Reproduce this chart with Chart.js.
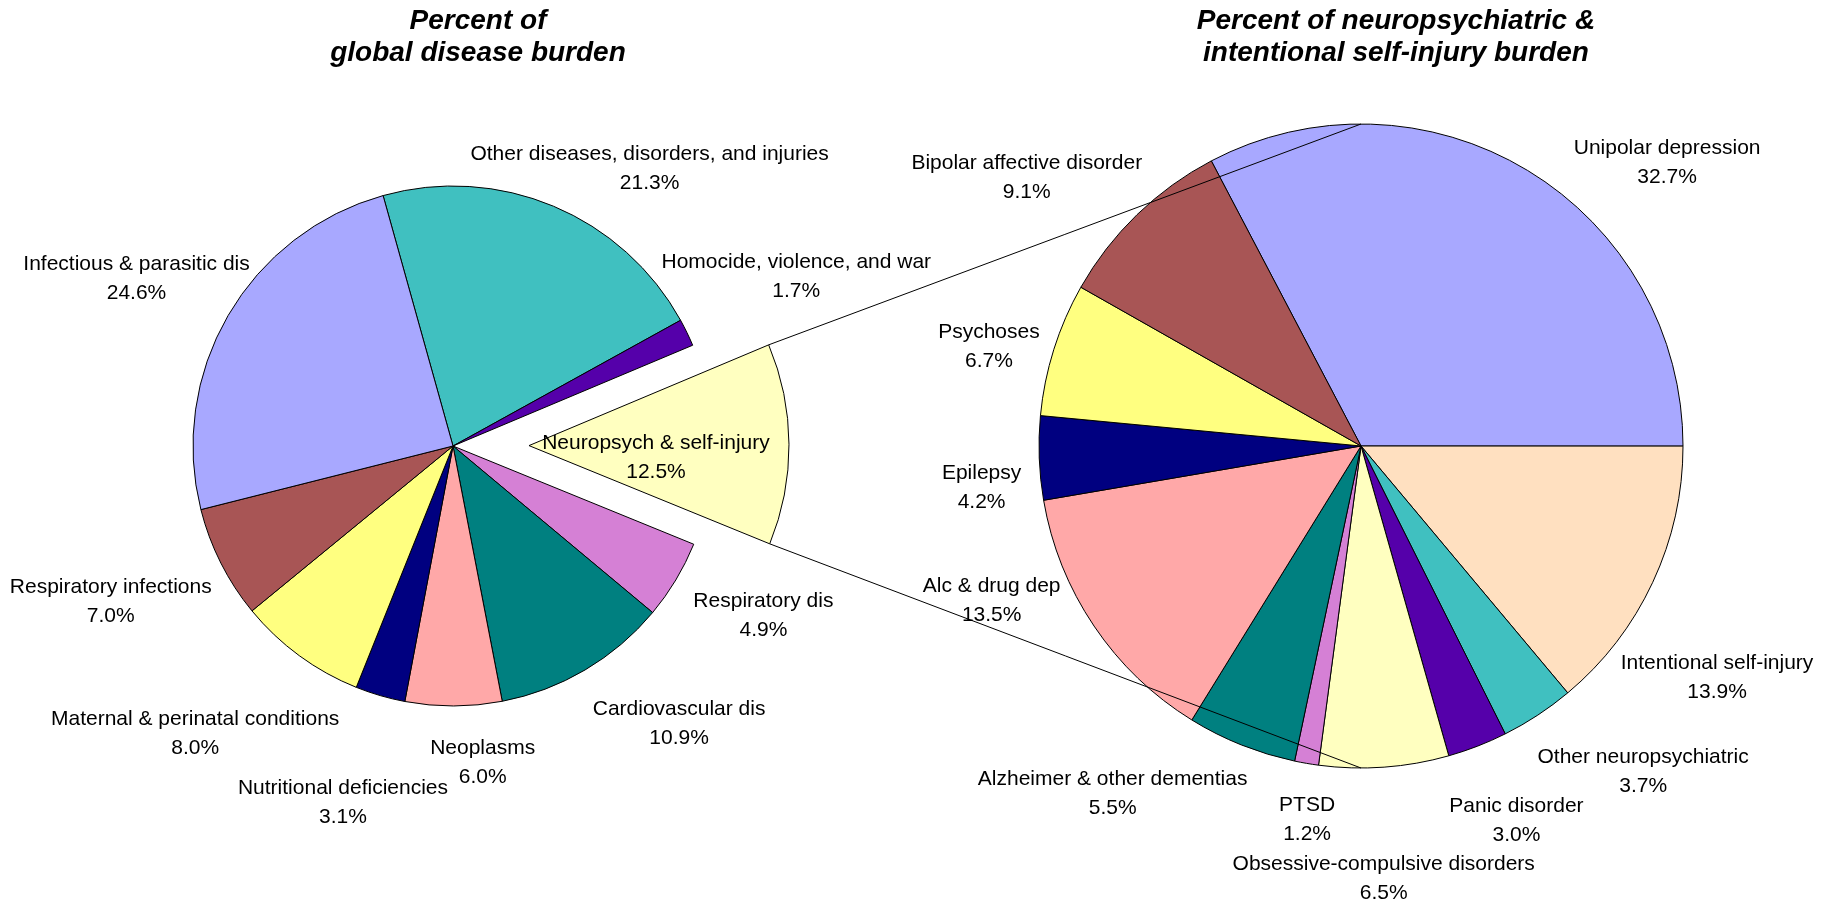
<!DOCTYPE html>
<html>
<head>
<meta charset="utf-8">
<script src="https://cdn.jsdelivr.net/npm/chart.js@4/dist/chart.umd.min.js"></script>
<style>
  body { margin: 0; background: #fff; }
  #wrap { position: relative; width: 1834px; height: 904px; overflow: hidden; }
  #wrap canvas { position: absolute; left: 0; top: 0; }
  .title {
    position: absolute; top: 4px; width: 600px; text-align: center;
    font: italic bold 28px/32px "Liberation Sans", Arial, sans-serif; color: #000;
  }
</style>
</head>
<body>
<div id="wrap">
  <canvas id="globalPie" width="1834" height="904"></canvas>
  <canvas id="neuroPie" width="1834" height="904"></canvas>
  <div class="title" style="left:178px">Percent of<br>global disease burden</div>
  <div class="title" style="left:1096px">Percent of neuropsychiatric &amp;<br>intentional self-injury burden</div>
</div>
<script>
// left pie: share of global disease burden
const globalLabels = [
  'Other diseases, disorders, and injuries', 'Homocide, violence, and war',
  'Neuropsych & self-injury', 'Respiratory dis', 'Cardiovascular dis', 'Neoplasms',
  'Nutritional deficiencies', 'Maternal & perinatal conditions',
  'Respiratory infections', 'Infectious & parasitic dis'
];
const globalValues = [21.3, 1.7, 12.5, 4.9, 10.9, 6.0, 3.1, 8.0, 7.0, 24.6];
const globalColors = ['#40C0C0', '#5500AA', '#FFFFC0', '#D580D5', '#008080',
  '#FFA8A8', '#000080', '#FFFF80', '#A85555', '#A8A8FF'];

// right pie: breakdown of the neuropsych slice
const neuroLabels = [
  'Unipolar depression', 'Intentional self-injury', 'Other neuropsychiatric',
  'Panic disorder', 'Obsessive-compulsive disorders', 'PTSD',
  'Alzheimer & other dementias', 'Alc & drug dep', 'Epilepsy', 'Psychoses',
  'Bipolar affective disorder'
];
const neuroValues = [32.7, 13.9, 3.7, 3.0, 6.5, 1.2, 5.5, 13.5, 4.2, 6.7, 9.1];
const neuroColors = ['#A8A8FF', '#FFE0C0', '#40C0C0', '#5500AA', '#FFFFC0',
  '#D580D5', '#008080', '#FFA8A8', '#000080', '#FFFF80', '#A85555'];

const FONT = '21px "Liberation Sans", Arial, sans-serif';
const LINE_H = 29;

// pulls one slice out along its middle angle
const explode = {
  id: 'explode',
  afterDatasetsUpdate(chart, args, opts) {
    const arc = chart.getDatasetMeta(0).data[opts.index];
    if (!arc) return;
    const mid = (arc.startAngle + arc.endAngle) / 2;
    arc.x += Math.cos(mid) * opts.distance;
    arc.y += Math.sin(mid) * opts.distance;
  }
};

// "name / xx.x%" labels outside each slice (inside for the exploded one)
const pieLabels = {
  id: 'pieLabels',
  afterDraw(chart, args, opts) {
    const ctx = chart.ctx;
    const arcs = chart.getDatasetMeta(0).data;
    const values = chart.data.datasets[0].data;
    ctx.save();
    ctx.font = FONT;
    ctx.fillStyle = '#000';
    ctx.textAlign = 'center';
    ctx.textBaseline = 'middle';
    arcs.forEach((arc, i) => {
      const lines = [chart.data.labels[i], values[i].toFixed(1) + '%'];
      const mid = (arc.startAngle + arc.endAngle) / 2;
      const cos = Math.cos(mid), sin = Math.sin(mid);
      let x, y;
      if (i === opts.inside) {
        x = arc.x + cos * arc.outerRadius * 0.5;
        y = arc.y + sin * arc.outerRadius * 0.5;
      } else {
        const w = Math.max(...lines.map(l => ctx.measureText(l).width));
        const h = LINE_H * lines.length;
        const r = arc.outerRadius + opts.pad;
        x = arc.x + cos * r + cos * w / 2;
        y = arc.y + sin * r + sin * h / 2;
      }
      const n = opts.nudge[i] || [0, 0];
      x += n[0];
      y += n[1];
      lines.forEach((l, k) => {
        ctx.fillText(l, x, y + (k - (lines.length - 1) / 2) * LINE_H);
      });
    });
    ctx.restore();
  }
};

function pieConfig(labels, values, colors, radius, rotation, padding, extra) {
  return {
    type: 'pie',
    data: {
      labels: labels,
      datasets: [{
        data: values,
        backgroundColor: colors,
        borderColor: '#000',
        borderWidth: 1,
        clip: false
      }]
    },
    options: {
      responsive: false,
      animation: false,
      radius: radius,
      rotation: rotation,
      layout: { padding: padding },
      events: [],
      plugins: Object.assign({
        legend: { display: false },
        tooltip: { enabled: false }
      }, extra)
    },
    plugins: [explode, pieLabels]
  };
}

const globalChart = new Chart(document.getElementById('globalPie'), pieConfig(
  globalLabels, globalValues, globalColors, 260, -15.6,
  { left: 0, top: 0, right: 928, bottom: 12 },
  {
    explode: { index: 2, distance: 76 },
    pieLabels: {
      pad: 10, inside: 2,
      nudge: [[23, -2], [-21, -39], [-3, 13], [19, 16], [45, 20], [29, 18],
              [-5, 70], [-13, 47], [-11, 21], [15, -17]]
    }
  }
));

// lines joining the exploded slice to the top and bottom of the right pie
const connectors = {
  id: 'connectors',
  afterDraw(chart) {
    const src = globalChart.getDatasetMeta(0).data[2];
    const dst = chart.getDatasetMeta(0).data[0];
    if (!src || !dst) return;
    const ctx = chart.ctx;
    const p1 = [src.x + Math.cos(src.startAngle) * src.outerRadius, src.y + Math.sin(src.startAngle) * src.outerRadius];
    const p2 = [src.x + Math.cos(src.endAngle) * src.outerRadius, src.y + Math.sin(src.endAngle) * src.outerRadius];
    ctx.save();
    ctx.strokeStyle = '#000';
    ctx.lineWidth = 1;
    ctx.beginPath();
    ctx.moveTo(p1[0], p1[1]);
    ctx.lineTo(dst.x, dst.y - dst.outerRadius);
    ctx.moveTo(p2[0], p2[1]);
    ctx.lineTo(dst.x, dst.y + dst.outerRadius);
    ctx.stroke();
    ctx.restore();
  }
};

const neuroCfg = pieConfig(
  neuroLabels, neuroValues, neuroColors, 322, -27.7,
  { left: 888, top: 0, right: 0, bottom: 12 },
  {
    explode: { index: -1, distance: 0 },
    pieLabels: {
      pad: 10, inside: -1,
      nudge: [[86, 26], [-32, 79], [42, 24], [11, 38], [-12, 73], [7, 18],
              [-75, 13], [-37, -47], [-8, 28], [-7, 9], [-23, -9]]
    }
  }
);
neuroCfg.plugins.push(connectors);
new Chart(document.getElementById('neuroPie'), neuroCfg);
</script>
</body>
</html>
